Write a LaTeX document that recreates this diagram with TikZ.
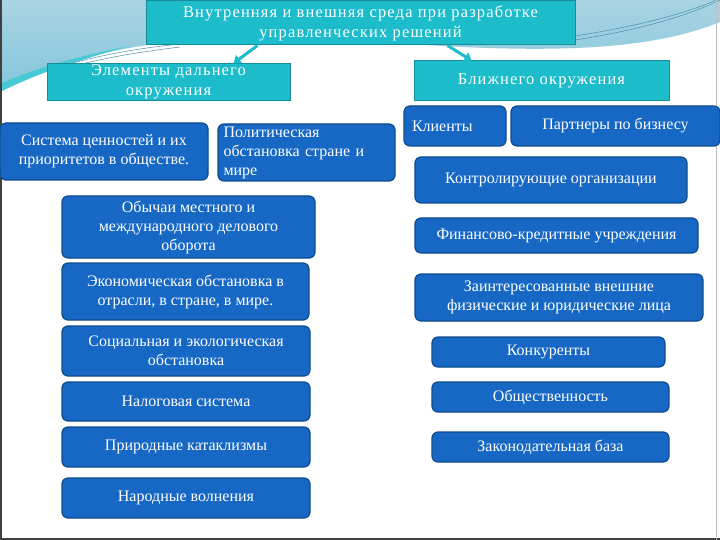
\documentclass[tikz,border=0pt]{standalone}
\usepackage{fontspec}
\setmainfont{Liberation Serif}
\newfontfamily\hdrfont[LetterSpace=7]{Liberation Serif}
\usetikzlibrary{arrows.meta}
\definecolor{boxblue}{HTML}{1668C4}
\definecolor{boxedge}{HTML}{0E4C8E}
\definecolor{tealfill}{HTML}{1CBCCB}
\definecolor{tealedge}{HTML}{168C99}
\definecolor{skytop}{HTML}{A9D3E3}
\definecolor{skybot}{HTML}{86C8DB}
\definecolor{wavelin}{HTML}{4A8FAE}
\tikzset{
  bbox/.style={draw=boxedge, line width=1.2pt, fill=boxblue, rounded corners=6pt,
    text=white, font=\fontsize{16}{19}\selectfont, align=center, inner sep=1pt},
  hbox/.style={draw=tealedge, line width=1pt, fill=tealfill, text=white,
    font=\hdrfont\fontsize{16.5}{20}\selectfont, align=center, inner sep=1pt},
  arr/.style={draw=tealfill, line width=3pt, -{Triangle[width=10pt,length=7pt]}},
}
\begin{document}
\begin{tikzpicture}[x=1pt,y=-1pt]
\useasboundingbox (0,0) rectangle (720,540);
\fill[white] (0,0) rectangle (720,540);
% background wave
\shade[top color=skytop, bottom color=skybot]
  (0,0) -- (720,0) -- (720,22) .. controls (640,55) and (520,52) .. (380,42)
  .. controls (260,34) and (150,28) .. (0,84) -- cycle;
\fill[tealfill!80] (0,84) .. controls (40,66) and (80,56) .. (130,46)
  .. controls (80,60) and (40,72) .. (0,92) -- cycle;
\draw[wavelin, line width=0.5pt] (60,70) .. controls (100,58) and (140,52) .. (180,47);
\draw[wavelin, line width=0.5pt] (62,66) .. controls (100,55) and (140,48) .. (180,44);
\draw[wavelin, line width=0.5pt] (575,40) .. controls (640,30) and (690,15) .. (720,0);
\draw[wavelin, line width=0.5pt] (575,36) .. controls (640,26) and (690,12) .. (716,0);
\draw[black!75, line width=2pt] (1,0) -- (1,540);
\draw[black!75, line width=2pt] (0,539) -- (720,539);
\draw[black!25, line width=1pt] (716.5,0) -- (716.5,540);
% title and headers
\node[hbox, minimum width=429pt, minimum height=44pt] (title) at (360.5,23)
  {Внутренняя и внешняя среда при разработке\\управленческих решений};
\node[hbox, minimum width=243pt, minimum height=36pt] (hl) at (168.5,82)
  {Элементы дальнего\\окружения};
\node[hbox, minimum width=255pt, minimum height=40pt] (hr) at (541.5,81)
  {Ближнего окружения};
\draw[arr] ([xshift=-103pt]title.south) -- ([xshift=65pt]hl.north);
\draw[arr] ([xshift=87pt]title.south) -- ([xshift=-70pt]hr.north);
% left column
\node[bbox, minimum width=208pt, minimum height=57pt] (l1) at (104,151.5)
  {Система ценностей и их\\приоритетов в обществе.};
\node[bbox, minimum width=177pt, minimum height=57pt, text width=166pt, align=left, inner sep=0pt] (l2) at (306.5,152.5)
  {Политическая\\обстановка стране и\\мире};
\node[bbox, minimum width=253pt, minimum height=62pt] (l3) at (188.5,227)
  {Обычаи местного и\\международного делового\\оборота};
\node[bbox, minimum width=247pt, minimum height=57pt] (l4) at (185.5,291.5)
  {Экономическая обстановка в\\отрасли, в стране, в мире.};
\node[bbox, minimum width=248pt, minimum height=50pt] (l5) at (186,351)
  {Социальная и экологическая\\обстановка};
\node[bbox, minimum width=248pt, minimum height=39pt] (l6) at (186,401.5)
  {Налоговая система};
\node[bbox, minimum width=248pt, minimum height=40pt] (l7) at (186,447)
  {Природные катаклизмы};
\node[bbox, minimum width=248pt, minimum height=40pt] (l8) at (186,498)
  {Народные волнения};
% right column
\node[bbox, minimum width=102pt, minimum height=40pt, text width=86pt, align=left, inner sep=0pt] (r1) at (455,126)
  {Клиенты};
\node[bbox, minimum width=209pt, minimum height=40pt] (r2) at (615.5,126)
  {Партнеры по бизнесу};
\node[bbox, minimum width=272pt, minimum height=46pt] (r3) at (551,180)
  {Контролирующие организации};
\node[bbox, minimum width=283pt, minimum height=35pt] (r4) at (556.5,235.5)
  {Финансово-кредитные учреждения};
\node[bbox, minimum width=288pt, minimum height=47pt] (r5) at (559,297.5)
  {Заинтересованные внешние\\физические и юридические лица};
\node[bbox, minimum width=233pt, minimum height=30pt] (r6) at (548.5,352)
  {Конкуренты};
\node[bbox, minimum width=237pt, minimum height=30pt] (r7) at (550.5,397)
  {Общественность};
\node[bbox, minimum width=237pt, minimum height=30pt] (r8) at (550.5,447)
  {Законодательная база};
\end{tikzpicture}
\end{document}
